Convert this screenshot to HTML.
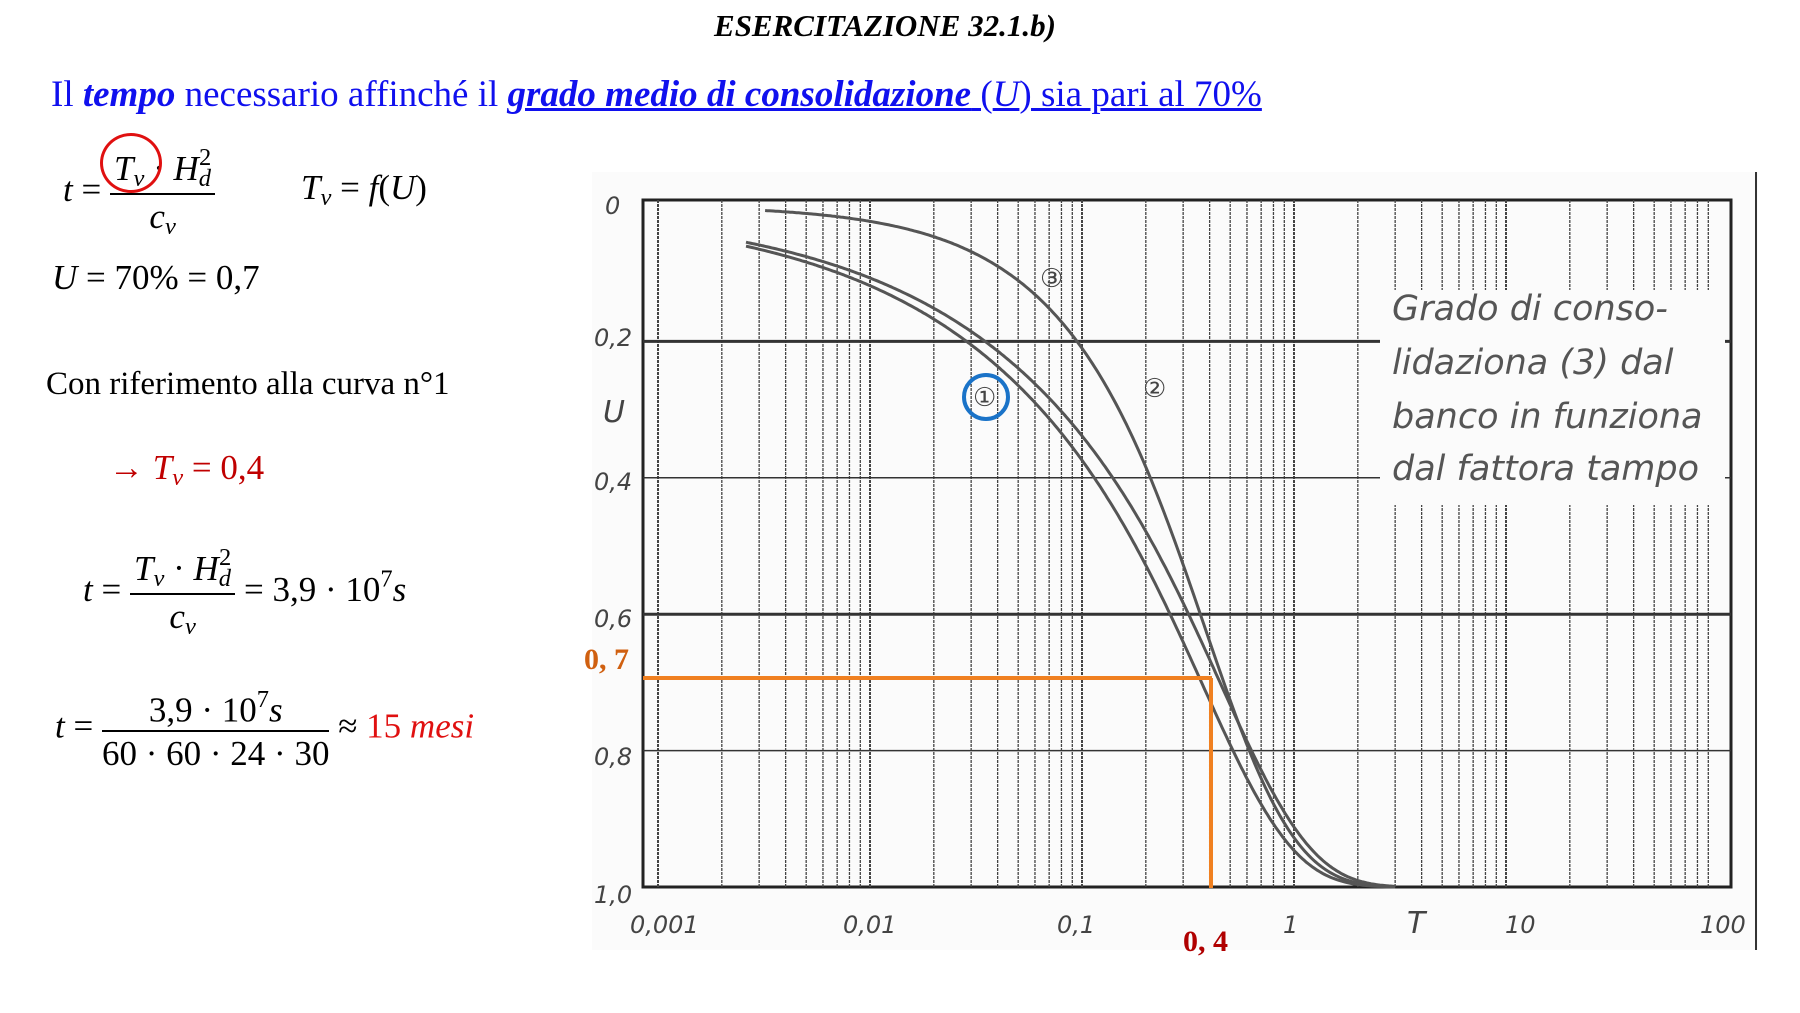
<!DOCTYPE html>
<html><head><meta charset="utf-8"><style>
body{margin:0;width:1800px;height:1013px;background:#fff;overflow:hidden;position:relative;font-family:"Liberation Serif",serif}
.a{position:absolute;white-space:nowrap;line-height:1}
.m{font-family:"Liberation Serif",serif;font-size:35px}
.fr{display:inline-block;vertical-align:middle;text-align:center}
.fr .n{display:block;border-bottom:2px solid #000;padding:0 4px 2px}
.fr .d{display:block;padding-top:4px}
i{font-style:italic}
sub{font-size:70%;vertical-align:-0.25em}
sup{font-size:70%;vertical-align:0.6em}
</style></head><body>
<div class="a" style="left:0;width:1770px;text-align:center;top:10px;font-size:31px;font-weight:bold;font-style:italic">ESERCITAZIONE 32.1.b)</div>
<div class="a" style="left:51px;top:76px;font-size:37px;color:#1010ee">Il <b><i>tempo</i></b> necessario affinché il <u><b><i>grado medio di consolidazione</i></b> (<i>U</i>) sia pari al 70%</u></div>

<div class="a m" style="left:63px;top:146px"><i>t</i> = <span class="fr"><span class="n"><i>T<sub>v</sub></i> · <i>H<sub>d</sub></i><sup style="margin-left:-12px">2</sup></span><span class="d"><i>c<sub>v</sub></i></span></span></div>
<div style="position:absolute;left:100px;top:133px;width:56px;height:54px;border:3px solid #e01010;border-radius:50%"></div>
<div class="a m" style="left:301px;top:170px"><i>T<sub>v</sub></i> = <i>f</i>(<i>U</i>)</div>
<div class="a m" style="left:52px;top:260px"><i>U</i> = 70% = 0,7</div>
<div class="a" style="left:46px;top:368px;font-size:33px">Con riferimento alla curva n°1</div>
<div class="a m" style="left:109px;top:450px;color:#c00000">→ <i>T<sub>v</sub></i> = 0,4</div>
<div class="a m" style="left:83px;top:546px"><i>t</i> = <span class="fr"><span class="n"><i>T<sub>v</sub></i> · <i>H<sub>d</sub></i><sup style="margin-left:-12px">2</sup></span><span class="d"><i>c<sub>v</sub></i></span></span> = 3,9 · 10<sup>7</sup><i>s</i></div>
<div class="a m" style="left:55px;top:688px"><i>t</i> = <span class="fr"><span class="n">3,9 · 10<sup>7</sup><i>s</i></span><span class="d">60 · 60 · 24 · 30</span></span> ≈ <span style="color:#e01010">15 <i>mesi</i></span></div>

<svg id="ch" style="position:absolute;left:0;top:0" width="1800" height="1013" xmlns="http://www.w3.org/2000/svg">
<rect x="592" y="172" width="1166" height="778" fill="#fbfbfb"/>
<line x1="1756" y1="172" x2="1756" y2="950" stroke="#333" stroke-width="2"/>
<g id="grid"></g>
<rect x="1380" y="290" width="345" height="215" fill="#fbfbfb"/>
<g id="curves" fill="none" stroke="#555" stroke-width="3"></g>
<g font-family="DejaVu Sans, sans-serif" font-style="italic" font-size="24" fill="#444">
<text x="605" y="214">0</text><text x="594" y="346">0,2</text><text x="594" y="490">0,4</text>
<text x="594" y="627">0,6</text><text x="594" y="765">0,8</text><text x="594" y="903">1,0</text>
<text x="603" y="422" font-size="30">U</text>
<text x="630" y="933">0,001</text><text x="843" y="933">0,01</text><text x="1057" y="933">0,1</text>
<text x="1283" y="933">1</text><text x="1407" y="933" font-size="30">T</text><text x="1505" y="933">10</text><text x="1700" y="933">100</text>
<g font-size="35" fill="#555"><text x="1392" y="320">Grado di conso-</text><text x="1392" y="374">lidaziona (3) dal</text><text x="1392" y="428">banco in funziona</text><text x="1392" y="480">dal fattora tampo</text></g>
<text x="1040" y="287" font-size="26">③</text><text x="1143" y="397" font-size="26">②</text><text x="973" y="406" font-size="26">①</text>
</g>
<circle cx="986" cy="397" r="22" fill="none" stroke="#1a73c8" stroke-width="4"/>
<line x1="643" y1="678" x2="1212" y2="678" stroke="#f08020" stroke-width="4"/>
<line x1="1211" y1="678" x2="1211" y2="888" stroke="#f08020" stroke-width="4"/>
<text x="584" y="669" font-family="Liberation Serif,serif" font-weight="bold" font-size="30" fill="#d06010">0, 7</text>
<text x="1183" y="951" font-family="Liberation Serif,serif" font-weight="bold" font-size="30" fill="#b00000">0, 4</text>
</svg>
<script>
var X0=658,DX=212,Y0=205,YS=682,L=643,R=1731,B=887;
function x(T){return X0+DX*(Math.log10(T)+3)}
function y(U){return Y0+U*YS}
var g='';
g+='<rect x="'+L+'" y="200" width="'+(R-L)+'" height="'+(B-200)+'" fill="none" stroke="#222" stroke-width="3"/>';
for(var d=-3;d<2;d++)for(var k=1;k<10;k++){var xx=x(k*Math.pow(10,d));if(xx<L||xx>R)continue;
g+='<line x1="'+xx+'" y1="200" x2="'+xx+'" y2="'+B+'" stroke="#444" stroke-width="'+(k==1?2:1.3)+'" stroke-dasharray="3 1"/>';}
[0.2,0.4,0.6,0.8].forEach(function(u){var w=(u==0.2||u==0.6)?3:1.5;g+='<line x1="'+L+'" y1="'+y(u)+'" x2="'+R+'" y2="'+y(u)+'" stroke="#333" stroke-width="'+w+'"/>';});
document.getElementById('grid').innerHTML=g;
function U1(T){var s=0;for(var m=0;m<60;m++){var M=Math.PI*(2*m+1)/2;s+=2/(M*M)*Math.exp(-M*M*T);}return Math.min(1,Math.max(0,1-s));}
function path(f,t0){var p='';for(var i=0;i<=300;i++){var T=t0*Math.pow(3/t0,i/300);var u=f(T);p+=(i?'L':'M')+x(T).toFixed(1)+' '+y(u).toFixed(1);}return '<path d="'+p+'"/>';}
var c='';
c+=path(function(T){return U1(T*1.1)},0.0026);
c+=path(function(T){return U1(T*0.9)},0.0026);
c+=path(function(T){var u=U1(T);return Math.pow(u,1+0.8*(1-u))},0.0032);
document.getElementById('curves').innerHTML=c;
</script>
</body></html>
